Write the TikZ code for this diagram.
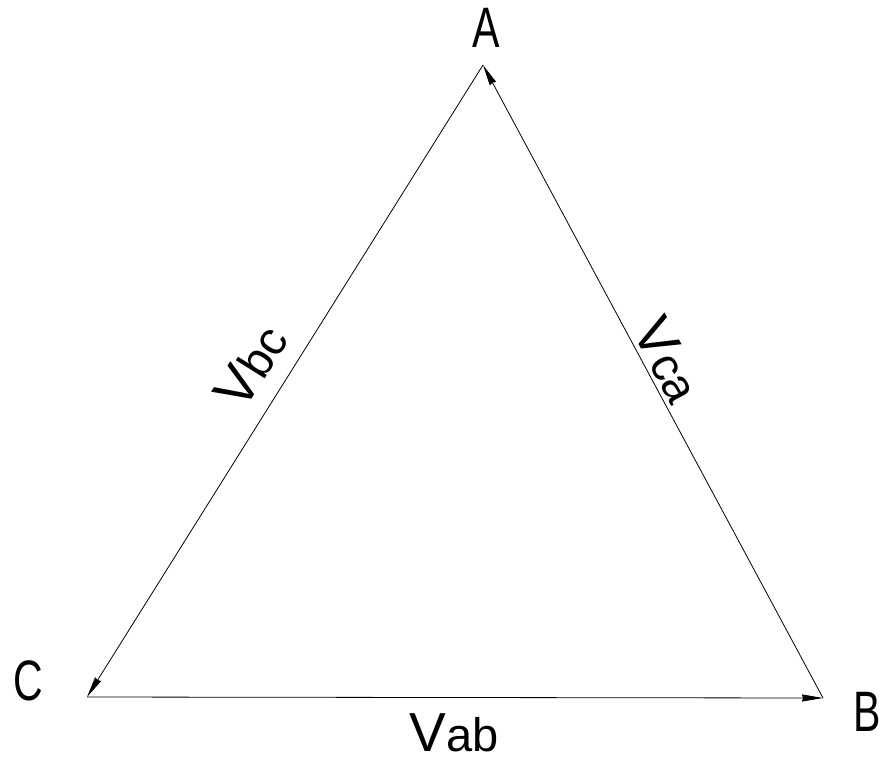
\documentclass[tikz,border=0pt]{standalone}
\usepackage{fontspec}
\setmainfont{Liberation Sans}
\usetikzlibrary{arrows.meta}
\begin{document}
\begin{tikzpicture}[x=1pt,y=-1pt,
  edge/.style={line width=0.8pt, -{Stealth[length=21pt,width=7pt,inset=1pt]}},
  vert/.style={font=\fontsize{57}{57}\selectfont, inner sep=0pt, xscale=0.72, transform shape},
  lbl/.style={inner sep=0pt}]
\useasboundingbox[fill=white] (0,0) rectangle (881,756);
\newcommand{\vlab}[1]{\fontsize{55}{55}\selectfont V\fontsize{47}{47}\selectfont #1}
\coordinate (A) at (483,65);
\coordinate (B) at (823,698);
\coordinate (C) at (87,697);
\draw[edge] (C) -- (B);
\draw[edge] (B) -- (A);
\draw[edge] (A) -- (C);
\node[vert] (la) at (486,28) {A};
\node[vert] (lb) at (867,712) {B};
\node[vert] (lc) at (28,681) {C};
\node[lbl, anchor=base] (vab) at (454,751) {\vlab{ab}};
\node[lbl, rotate=57.9] (vbc) at (251,366) {\vlab{bc}};
\node[lbl, rotate=-61.8] (vca) at (668,360) {\vlab{ca}};
\end{tikzpicture}
\end{document}
